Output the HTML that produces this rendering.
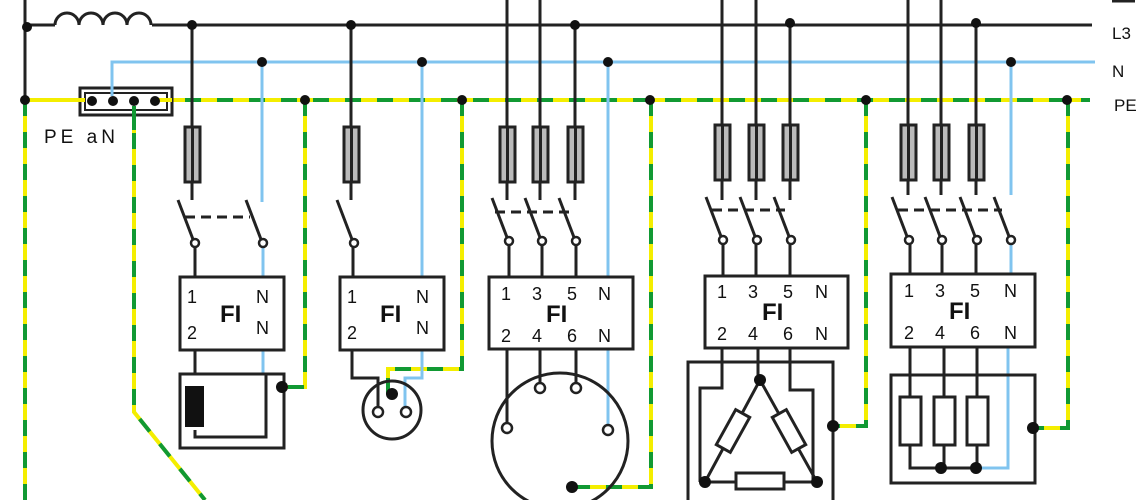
<!DOCTYPE html>
<html><head><meta charset="utf-8"><style>
html,body{margin:0;padding:0;background:#fff;}
svg{display:block;}
text{font-family:"Liberation Sans",sans-serif;fill:#111;}
</style></head><body>
<svg width="1140" height="500" viewBox="0 0 1140 500" xmlns="http://www.w3.org/2000/svg">
<defs>
<g id="sw"><line x1="0" y1="0" x2="16" y2="42" stroke="#222" stroke-width="3"/><circle cx="17" cy="43" r="4" fill="#fff" stroke="#222" stroke-width="2.5"/></g>
<g id="fuse"><rect x="-7" y="0" width="15" height="55" fill="#bbb" stroke="#222" stroke-width="3"/><line x1="0.5" y1="0" x2="0.5" y2="55" stroke="#222" stroke-width="3"/></g>
</defs>
<g fill="none" stroke-linecap="butt">
<!-- PE lines: yellow base + green dash -->
<g id="pe">
<path d="M25 100H1090 M25 100V500 M134 101V412L205 500 M305 100V387H282 M462 100V369H388V394 M651 100V487H572 M866 100V426H833 M1068 100V428H1033" stroke="#f4ee00" stroke-width="4"/>
<path d="M25 100H1090 M25 100V500 M134 101V412L205 500 M305 100V387H282 M462 100V369H388V394 M651 100V487H572 M866 100V426H833 M1068 100V428H1033" stroke="#119933" stroke-width="4" stroke-dasharray="16 16"/>
</g>
<!-- N blue -->
<path d="M112 100V62H1095 M262 62V202 M263 243V278 M263 350V375 M422 62V277 M422 350V378H405V408 M608 62V430 M1011 62V195 M1011 240V274 M1008 347V468H976" stroke="#80c4ef" stroke-width="3"/>
<!-- L3 black -->
<path d="M25 0V100 M25 25H55 M152 25H1092" stroke="#222" stroke-width="3"/>
<path d="M55 25 a12 12 0 0 1 24 0 a12 12 0 0 1 24 0 a12 12 0 0 1 24 0 a12 12 0 0 1 24 0" stroke="#222" stroke-width="3"/>
<path d="M1112 1H1135" stroke="#222" stroke-width="3"/>
</g>
<!-- PE aN box -->
<rect x="80" y="88" width="92" height="27" fill="#fff" stroke="#222" stroke-width="3"/>
<rect x="85" y="93" width="82" height="17" fill="#fff" stroke="#222" stroke-width="2"/>
<path d="M25 100H85 M155 100H172" stroke="#f4ee00" stroke-width="4"/>
<g fill="#111"><circle cx="92" cy="101" r="5"/><circle cx="113" cy="101" r="5"/><circle cx="134" cy="101" r="5"/><circle cx="155" cy="101" r="5"/></g>
<path d="M112 62V96" stroke="#80c4ef" stroke-width="3"/>
<path d="M134 106V130" stroke="#119933" stroke-width="4"/>
<text x="44" y="143" font-size="19" letter-spacing="4">PE aN</text>
<!-- black verticals -->
<g stroke="#222" stroke-width="3" fill="none">
<path d="M192 25V200 M195 243V278 M195 350V375 M351 25V200 M353 243V277 M352 350V378H378V408"/>
<path d="M507 0V200 M540 0V200 M575 25V200 M509 241V277 M542 241V277 M576 241V277 M507 349V428 M540 349V384 M576 349V384"/>
<path d="M722 0V200 M756 0V200 M790 23V200 M723 240V276 M756 240V276 M790 240V276 M722 348V388H700V482 M758 348V380 M790 348V390H813V482"/>
<path d="M908 0V195 M941 0V195 M976 23V195 M910 240V274 M942 240V274 M976 240V274 M910 347V397 M944 347V397 M977 347V397 M910 445V468H976 M944 445V468 M977 445V468"/>
</g>
<!-- fuses -->
<use href="#fuse" x="192" y="127"/><use href="#fuse" x="351" y="127"/>
<use href="#fuse" x="507" y="127"/><use href="#fuse" x="540" y="127"/><use href="#fuse" x="575" y="127"/>
<use href="#fuse" x="722" y="125"/><use href="#fuse" x="756" y="125"/><use href="#fuse" x="790" y="125"/>
<use href="#fuse" x="908" y="125"/><use href="#fuse" x="941" y="125"/><use href="#fuse" x="976" y="125"/>
<!-- switches -->
<use href="#sw" x="178" y="200"/><use href="#sw" x="246" y="200"/>
<use href="#sw" x="337" y="200"/>
<use href="#sw" x="492" y="198"/><use href="#sw" x="525" y="198"/><use href="#sw" x="559" y="198"/>
<use href="#sw" x="706" y="197"/><use href="#sw" x="740" y="197"/><use href="#sw" x="774" y="197"/>
<use href="#sw" x="892" y="197"/><use href="#sw" x="925" y="197"/><use href="#sw" x="960" y="197"/><use href="#sw" x="994" y="197"/>
<g stroke="#222" stroke-width="3" stroke-dasharray="10 6">
<path d="M185 217H250"/><path d="M495 212H570"/><path d="M712 210H785"/><path d="M898 210H1002"/>
</g>
<!-- FI boxes -->
<g fill="#fff" stroke="#222" stroke-width="3">
<rect x="180" y="277" width="104" height="73"/><rect x="340" y="277" width="104" height="73"/>
<rect x="489" y="277" width="144" height="72"/><rect x="705" y="276" width="143" height="72"/>
<rect x="891" y="274" width="144" height="73"/>
</g>
<g font-size="18">
<text x="187" y="303">1</text><text x="187" y="339">2</text><text x="256" y="303">N</text><text x="256" y="334">N</text>
<text x="347" y="303">1</text><text x="347" y="339">2</text><text x="416" y="303">N</text><text x="416" y="334">N</text>
<text x="501" y="300">1</text><text x="532" y="300">3</text><text x="567" y="300">5</text><text x="598" y="300">N</text>
<text x="501" y="342">2</text><text x="532" y="342">4</text><text x="567" y="342">6</text><text x="598" y="342">N</text>
<text x="717" y="298">1</text><text x="748" y="298">3</text><text x="783" y="298">5</text><text x="815" y="298">N</text>
<text x="717" y="340">2</text><text x="748" y="340">4</text><text x="783" y="340">6</text><text x="815" y="340">N</text>
<text x="904" y="297">1</text><text x="935" y="297">3</text><text x="970" y="297">5</text><text x="1004" y="297">N</text>
<text x="904" y="339">2</text><text x="935" y="339">4</text><text x="970" y="339">6</text><text x="1004" y="339">N</text>
</g>
<g font-size="24" font-weight="bold">
<text x="220" y="322">FI</text><text x="380" y="322">FI</text><text x="546" y="322">FI</text><text x="762" y="320">FI</text><text x="949" y="319">FI</text>
</g>
<!-- device 1 -->
<rect x="180" y="374" width="104" height="74" fill="none" stroke="#222" stroke-width="3"/>
<path d="M195 430V437H266V374" fill="none" stroke="#222" stroke-width="3"/>
<rect x="185" y="386" width="19" height="41" fill="#111"/>
<!-- socket -->
<circle cx="392" cy="410" r="29" fill="none" stroke="#222" stroke-width="3"/>
<circle cx="378" cy="412" r="5" fill="#fff" stroke="#222" stroke-width="2.5"/>
<circle cx="406" cy="412" r="5" fill="#fff" stroke="#222" stroke-width="2.5"/>
<!-- motor -->
<circle cx="560" cy="441" r="68" fill="none" stroke="#222" stroke-width="3"/>
<g fill="#fff" stroke="#222" stroke-width="2.5">
<circle cx="507" cy="428" r="5"/><circle cx="540" cy="388" r="5"/><circle cx="576" cy="388" r="5"/><circle cx="608" cy="430" r="5"/>
</g>
<!-- delta device -->
<path d="M688 500V362H833V500" fill="none" stroke="#222" stroke-width="3"/>
<path d="M760 380L705 482H817Z" fill="none" stroke="#222" stroke-width="3"/>
<g fill="#fff" stroke="#222" stroke-width="3">
<rect x="-8" y="-20" width="16" height="40" transform="translate(733 431) rotate(29)"/>
<rect x="-8" y="-20" width="16" height="40" transform="translate(789 431) rotate(-29)"/>
<rect x="736" y="473" width="48" height="16"/>
</g>
<!-- resistor device -->
<rect x="891" y="375" width="144" height="108" fill="none" stroke="#222" stroke-width="3"/>
<g fill="#fff" stroke="#222" stroke-width="3">
<rect x="900" y="397" width="21" height="48"/><rect x="934" y="397" width="21" height="48"/><rect x="967" y="397" width="21" height="48"/>
</g>
<!-- junction dots -->
<g fill="#111">
<circle cx="27" cy="27" r="5"/><circle cx="25" cy="100" r="5"/>
<circle cx="192" cy="25" r="5"/><circle cx="351" cy="25" r="5"/><circle cx="575" cy="25" r="5"/><circle cx="790" cy="23" r="5"/><circle cx="976" cy="23" r="5"/>
<circle cx="262" cy="62" r="5"/><circle cx="422" cy="62" r="5"/><circle cx="608" cy="62" r="5"/><circle cx="1011" cy="62" r="5"/>
<circle cx="305" cy="100" r="5"/><circle cx="462" cy="100" r="5"/><circle cx="650" cy="100" r="5"/><circle cx="866" cy="100" r="5"/><circle cx="1067" cy="100" r="5"/>
<circle cx="282" cy="387" r="6"/><circle cx="392" cy="394" r="6"/><circle cx="572" cy="487" r="6"/>
<circle cx="760" cy="380" r="6"/><circle cx="705" cy="482" r="6"/><circle cx="817" cy="482" r="6"/><circle cx="833" cy="426" r="6"/>
<circle cx="941" cy="468" r="6"/><circle cx="976" cy="468" r="6"/><circle cx="1033" cy="428" r="6"/>
</g>
<g font-size="17">
<text x="1112" y="39">L3</text><text x="1112" y="77">N</text><text x="1114" y="111">PE</text>
</g>
</svg>
</body></html>
